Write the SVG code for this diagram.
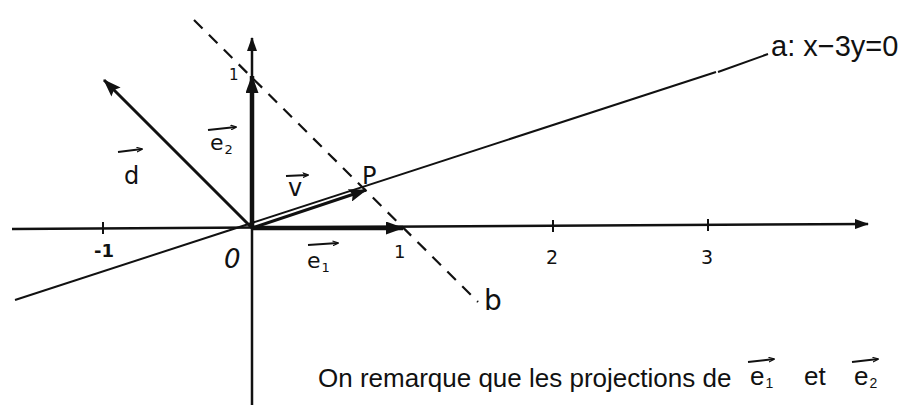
<svg xmlns="http://www.w3.org/2000/svg" width="914" height="417" viewBox="0 0 914 417">
<defs>
<marker id="ah" viewBox="0 0 18 13" refX="17" refY="6.5" markerWidth="18" markerHeight="13" orient="auto" markerUnits="userSpaceOnUse"><path d="M0,0 L18,6.5 L0,13 L3,6.5 z" fill="#111"/></marker>
<marker id="ahs" viewBox="0 0 18 13" refX="17" refY="6.5" markerWidth="18" markerHeight="13" orient="auto" markerUnits="userSpaceOnUse"><path d="M0,0 L18,6.5 L0,13 z" fill="#111"/></marker>
<marker id="axh" viewBox="0 0 14 10" refX="13" refY="5" markerWidth="14" markerHeight="10" orient="auto" markerUnits="userSpaceOnUse"><path d="M0,0 L14,5 L0,10 z" fill="#111"/></marker>
<marker id="small" viewBox="0 0 10 10" refX="9" refY="5" markerWidth="3" markerHeight="3" orient="auto" markerUnits="strokeWidth"><path d="M0,1 L10,5 L0,9" fill="none" stroke="#111" stroke-width="2"/></marker>
</defs>
<style>
.t{font-family:"DejaVu Sans","Liberation Sans",sans-serif;fill:#111}
.n{font-family:"Liberation Sans",Arial,sans-serif;fill:#111}
.ax{stroke:#111;stroke-width:2.5;fill:none;marker-end:url(#axh)}
.ov{stroke:#111;stroke-width:2;fill:none;marker-end:url(#small)}
</style>
<rect width="914" height="417" fill="#fff"/>
<g id="axes">
<line class="ax" x1="12" y1="229" x2="868" y2="224"/>
<line class="ax" x1="252" y1="405" x2="252" y2="38"/>
<g stroke="#111" stroke-width="2">
<line x1="103" y1="222" x2="103" y2="234"/>
<line x1="553" y1="220" x2="553" y2="232"/>
<line x1="708" y1="219" x2="708" y2="231"/>
</g>
</g>
<g id="line-a">
<line x1="15" y1="300" x2="716" y2="72" stroke="#111" stroke-width="2"/>
<line x1="718" y1="72" x2="768" y2="54" stroke="#111" stroke-width="2"/>
<text class="n" x="771" y="56" font-size="29">a: x−3y=0</text>
</g>
<g id="line-b">
<line x1="194" y1="20" x2="478" y2="302" stroke="#111" stroke-width="2.2" stroke-dasharray="12,9"/>
<text class="t" x="484" y="310" font-size="28">b</text>
</g>
<g id="vector-d">
<line x1="252" y1="228" x2="104" y2="80" stroke="#111" stroke-width="3" marker-end="url(#ah)"/>
<line class="ov" x1="118" y1="152" x2="142" y2="149"/>
<text class="t" x="124" y="184" font-size="24">d</text>
</g>
<g id="vector-e2">
<line x1="252" y1="228" x2="252" y2="76" stroke="#111" stroke-width="4.5" marker-end="url(#ahs)"/>
<line class="ov" x1="208" y1="130" x2="236" y2="127"/>
<text class="t" x="210" y="150" font-size="22">e<tspan font-size="13" dx="1" dy="4">2</tspan></text>
<text class="t" x="229" y="80" font-size="15">1</text>
</g>
<g id="vector-e1">
<line x1="252" y1="228" x2="403" y2="228" stroke="#111" stroke-width="4.5" marker-end="url(#ahs)"/>
<line class="ov" x1="308" y1="245" x2="338" y2="243"/>
<text class="t" x="307" y="268" font-size="22">e<tspan font-size="13" dx="1" dy="4">1</tspan></text>
</g>
<g id="vector-v">
<line x1="252" y1="228" x2="366" y2="190" stroke="#111" stroke-width="3" marker-end="url(#ah)"/>
<line class="ov" x1="286" y1="176" x2="308" y2="175"/>
<text class="t" x="288" y="196" font-size="24">v</text>
<text class="t" x="362" y="184" font-size="24">P</text>
</g>
<g id="tick-labels">
<text class="t" x="94" y="257" font-size="18" font-weight="bold">-1</text>
<text class="t" x="224" y="268" font-size="26" font-style="italic">0</text>
<text class="t" x="394" y="258" font-size="18">1</text>
<text class="t" x="546" y="264" font-size="19">2</text>
<text class="t" x="701" y="264" font-size="19">3</text>
</g>
<g id="note">
<text class="n" x="318" y="387" font-size="26">On remarque que les projections de</text>
<line class="ov" x1="748" y1="362" x2="774" y2="359"/>
<text class="n" x="750" y="385" font-size="26">e<tspan font-size="14" dx="1" dy="3">1</tspan></text>
<text class="n" x="804" y="385" font-size="26">et</text>
<line class="ov" x1="852" y1="362" x2="878" y2="359"/>
<text class="n" x="854" y="385" font-size="26">e<tspan font-size="14" dx="1" dy="3">2</tspan></text>
</g>
</svg>
